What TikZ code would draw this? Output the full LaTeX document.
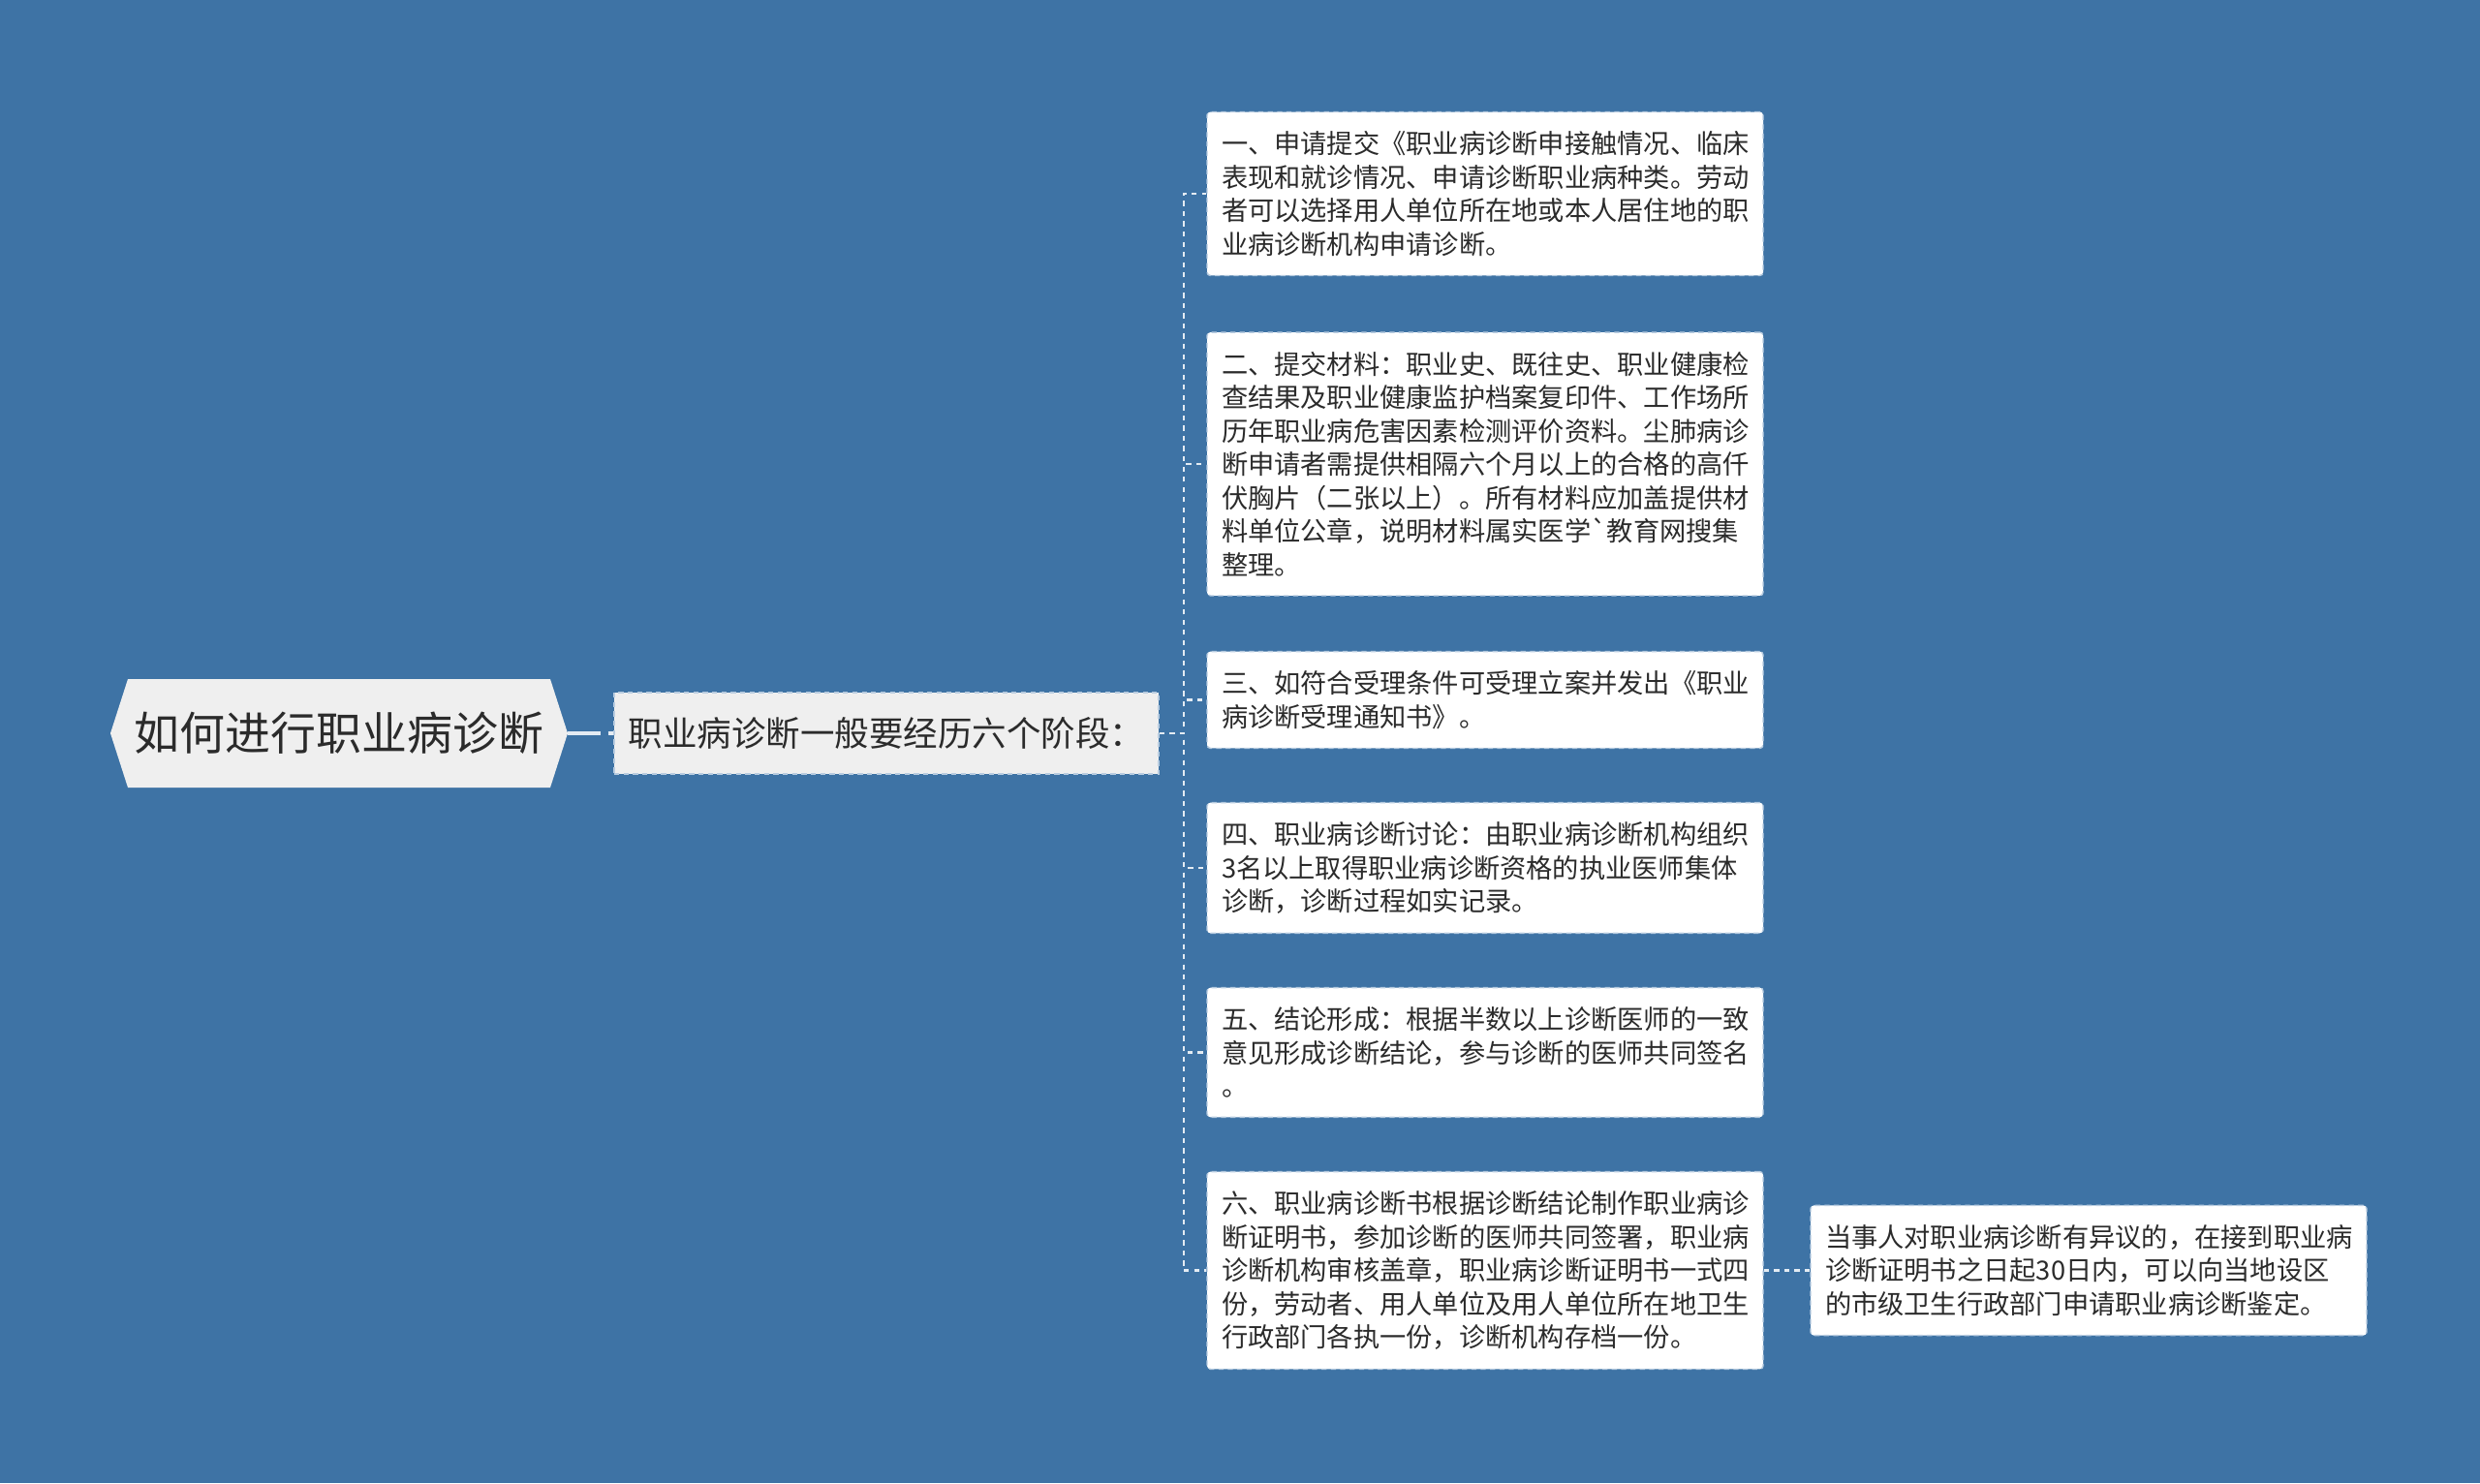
\documentclass[tikz,border=0pt]{standalone}
\usepackage{fontspec}
\setmainfont{Noto Sans CJK SC}
\usepackage{tikz}
\usetikzlibrary{calc}

\definecolor{bgblue}{HTML}{3E73A5}
\definecolor{boxline}{HTML}{B8CCE0}
\definecolor{linkline}{HTML}{E3EBF3}
\definecolor{greyfill}{HTML}{EFEFEF}
\definecolor{txt}{HTML}{2B2B2B}

\tikzset{
	stepbox/.style={draw=boxline, line width=0.8pt, dash pattern=on 3pt off 2.5pt, rounded corners=2pt, fill=white, text=txt, inner xsep=0.3cm, inner ysep=0.4cm, text width=10.88cm, align=left, font=\fontsize{15.5pt}{19.64pt}\selectfont},
	link/.style={draw=linkline, line width=1.3pt, dash pattern=on 3pt off 3pt},
}

\begin{document}
\begin{tikzpicture}

		\fill[bgblue] (0,0) rectangle (51.2,-30.62);
		\useasboundingbox (0,0) rectangle (51.2,-30.62);

		\coordinate (rootc) at (7.0,-15.14);
		\fill[greyfill] ($(rootc)+(-4.72,0)$) -- ++(0.36,1.12) -- ++(8.72,0) -- ++(0.36,-1.12) -- ++(-0.36,-1.12) -- ++(-8.72,0) -- cycle;
		\node[minimum width=9.44cm, minimum height=2.24cm, text=txt, font=\fontsize{26.7pt}{30pt}\selectfont] (root) at (rootc) {如何进行职业病诊断};

		\node[draw=boxline, line width=0.8pt, dash pattern=on 3pt off 2.5pt, fill=greyfill, text=txt, minimum width=11.24cm, minimum height=1.68cm, font=\fontsize{20.2pt}{24pt}\selectfont] (stages) at (18.3,-15.14) {职业病诊断一般要经历六个阶段：};

		\node[stepbox] (s1) at (30.66,-4.0) {一、申请提交《职业病诊断申接触情况、临床\\表现和就诊情况、申请诊断职业病种类。劳动\\者可以选择用人单位所在地或本人居住地的职\\业病诊断机构申请诊断。};
		\node[stepbox] (s2) at (30.66,-9.58) {二、提交材料：职业史、既往史、职业健康检\\查结果及职业健康监护档案复印件、工作场所\\历年职业病危害因素检测评价资料。尘肺病诊\\断申请者需提供相隔六个月以上的合格的高仟\\伏胸片（二张以上）。所有材料应加盖提供材\\料单位公章，说明材料属实医学\textasciigrave 教育网搜集\\整理。};
		\node[stepbox] (s3) at (30.66,-14.45) {三、如符合受理条件可受理立案并发出《职业\\病诊断受理通知书》。};
		\node[stepbox] (s4) at (30.66,-17.92) {四、职业病诊断讨论：由职业病诊断机构组织\\3名以上取得职业病诊断资格的执业医师集体\\诊断，诊断过程如实记录。};
		\node[stepbox] (s5) at (30.66,-21.73) {五、结论形成：根据半数以上诊断医师的一致\\意见形成诊断结论，参与诊断的医师共同签名\\。};
		\node[stepbox] (s6) at (30.66,-26.23) {六、职业病诊断书根据诊断结论制作职业病诊\\断证明书，参加诊断的医师共同签署，职业病\\诊断机构审核盖章，职业病诊断证明书一式四\\份，劳动者、用人单位及用人单位所在地卫生\\行政部门各执一份，诊断机构存档一份。};

		\node[stepbox] (appeal) at (43.12,-26.23) {当事人对职业病诊断有异议的，在接到职业病\\诊断证明书之日起30日内，可以向当地设区\\的市级卫生行政部门申请职业病诊断鉴定。};

		\draw[draw=linkline, line width=1.9pt, dash pattern=on 19pt off 4.5pt] (root.east) -- (stages.west);
		\foreach \s in {s1,s2,s3,s4,s5,s6}
			\draw[link] (stages.east) -- ++(0.5,0) |- (\s.west);
		\draw[link] (s6.east) -- (appeal.west);

\end{tikzpicture}
\end{document}
